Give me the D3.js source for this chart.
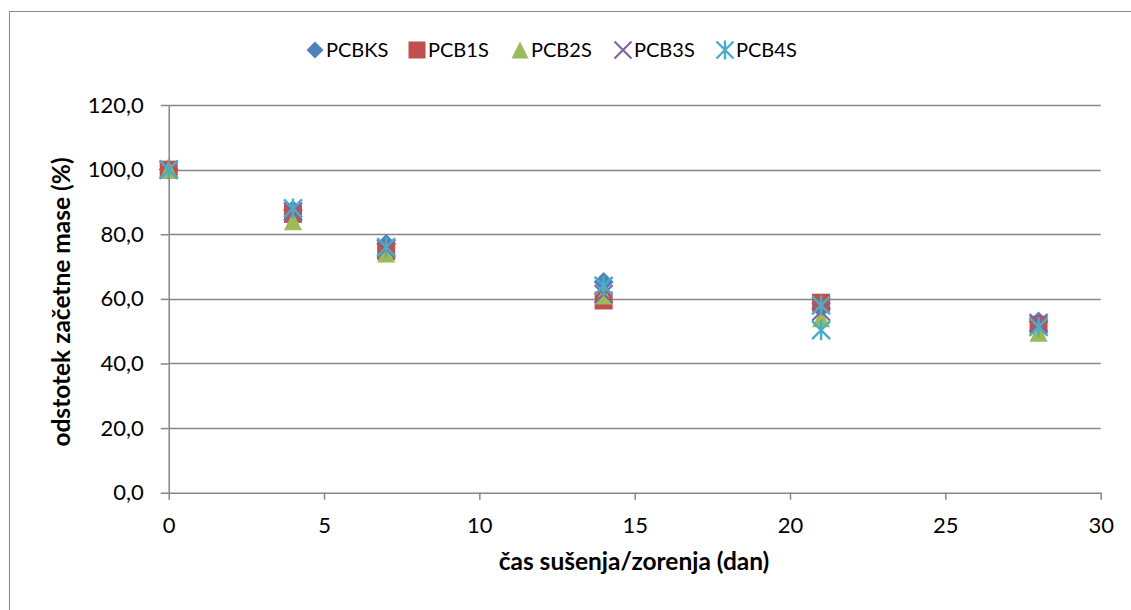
<!DOCTYPE html>
<html>
<head>
<meta charset="utf-8">
<script src="https://d3js.org/d3.v7.min.js"></script>
<style>
    body { margin: 0; background: #fff; }
    svg { display: block; font-family: Lato, "Open Sans", sans-serif; }
</style>
</head>
<body>
<svg width="1131" height="610"></svg>
<script>
    // data
    const seriesNames = ["PCBKS", "PCB1S", "PCB2S", "PCB3S", "PCB4S"]
    const colors = ["#4F81BD", "#C0504D", "#9BBB59", "#8064A2", "#4BACC6"]
    const shapes = ["diamond", "square", "triangle", "x", "star"]

    const daysKS = [0, 4, 7, 14, 21, 28]
    const valKS = [100, 87.5, 77, 65.2, 57, 53]
    const days1S = [0, 4, 7, 14, 21, 28]
    const val1S = [100, 86.3, 74.8, 59.5, 58.8, 52]
    const days2S = [0, 4, 7, 14, 21, 28]
    const val2S = [100, 84, 74, 61, 54, 49.5]
    const days3S = [0, 4, 7, 14, 21, 28]
    const val3S = [100, 87, 75.5, 61.5, 56, 52.5]
    const days4S = [0, 4, 7, 14, 21, 21, 28]
    const val4S = [100, 88, 76, 64, 58, 50.3, 51.3]

    const xTicks = [0, 5, 10, 15, 20, 25, 30]
    const yTicks = [0, 20, 40, 60, 80, 100, 120]

    const allDays = [daysKS, days1S, days2S, days3S, days4S]
    const allVals = [valKS, val1S, val2S, val3S, val4S]

    const svg = d3.select("svg")

    // outer chart border
    svg.append("rect")
        .attr("x", 9.5).attr("y", 11.5)
        .attr("width", 1130).attr("height", 610)
        .attr("fill", "none").attr("stroke", "#888")

    const x = d3.scaleLinear().domain([0, 30]).range([168.7, 1100.7])
    const y = d3.scaleLinear().domain([0, 120]).range([492.7, 105])

    const fmt = d => d3.format(".1f")(d).replace(".", ",")

    // gridlines
    svg.append("g").selectAll("line")
        .data(yTicks.slice(1))
        .enter().append("line")
        .attr("x1", x(0)).attr("x2", x(30))
        .attr("y1", d => Math.round(y(d)) + 0.5).attr("y2", d => Math.round(y(d)) + 0.5)
        .attr("stroke", "#868686").attr("stroke-width", 1.3)

    // y axis
    const yAxis = svg.append("g")
        .attr("transform", `translate(${x(0)},0)`)
        .call(d3.axisLeft(y).tickValues(yTicks).tickFormat(fmt).tickSizeInner(8).tickSizeOuter(0).tickPadding(17))
    // x axis
    const xAxis = svg.append("g")
        .attr("transform", `translate(0,${y(0)})`)
        .call(d3.axisBottom(x).tickValues(xTicks).tickSizeInner(7).tickSizeOuter(0).tickPadding(18))

    for (const ax of [yAxis, xAxis]) {
        ax.select(".domain").attr("stroke", "#868686").attr("stroke-width", 1.5)
        ax.selectAll(".tick line").attr("stroke", "#868686").attr("stroke-width", 1.5)
        ax.selectAll("text").attr("font-size", 22).attr("fill", "#000")
            .attr("font-family", "Lato, 'Open Sans', sans-serif")
    }

    // axis titles
    svg.append("text")
        .attr("x", 634).attr("y", 570)
        .attr("text-anchor", "middle")
        .attr("font-size", 24.5).attr("font-weight", "bold")
        .text("čas sušenja/zorenja (dan)")
    svg.append("text")
        .attr("transform", "translate(70,302) rotate(-90)")
        .attr("text-anchor", "middle")
        .attr("font-size", 24.5).attr("font-weight", "bold")
        .text("odstotek začetne mase (%)")

    // marker drawing
    const S = 18
    let drawMarker = (g, shape, color, size) => {
        const h = size / 2
        if (shape === "diamond") {
            g.append("path").attr("d", `M0,${-h - 1}L${h + 1},0L0,${h + 1}L${-h - 1},0Z`).attr("fill", color)
        } else if (shape === "square") {
            g.append("rect").attr("x", -h).attr("y", -h).attr("width", size).attr("height", size).attr("fill", color)
        } else if (shape === "triangle") {
            g.append("path").attr("d", `M0,${-h}L${h},${h}L${-h},${h}Z`).attr("fill", color)
        } else if (shape === "x") {
            g.append("path").attr("d", `M${-h},${-h}L${h},${h}M${h},${-h}L${-h},${h}`)
                .attr("stroke", color).attr("stroke-width", 2.2).attr("fill", "none")
        } else {
            g.append("path").attr("d", `M${-h},${-h}L${h},${h}M${h},${-h}L${-h},${h}M0,${-h - 1}L0,${h + 1}`)
                .attr("stroke", color).attr("stroke-width", 2.4).attr("fill", "none")
        }
    }

    // points
    seriesNames.forEach((name, si) => {
        const pts = allDays[si].map((d, i) => ({ day: d, v: allVals[si][i] }))
        svg.append("g").selectAll("g")
            .data(pts)
            .enter().append("g")
            .attr("transform", d => `translate(${x(d.day)},${y(d.v)})`)
            .each(function () { drawMarker(d3.select(this), shapes[si], colors[si], S) })
    })

    // legend
    const legX = [315, 417, 520, 623, 725]
    seriesNames.forEach((name, si) => {
        const g = svg.append("g").attr("transform", `translate(${legX[si]},50)`)
        drawMarker(g, shapes[si], colors[si], shapes[si] === "diamond" ? 15 : 17)
        g.append("text").attr("x", 11).attr("y", 7)
            .attr("font-size", 20).text(name)
    })
</script>
</body>
</html>
